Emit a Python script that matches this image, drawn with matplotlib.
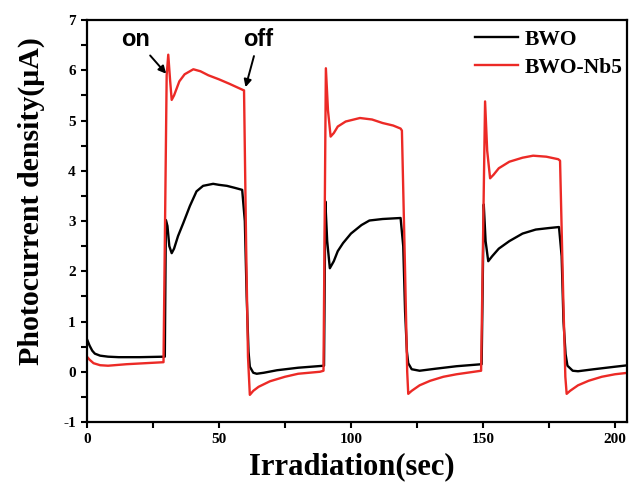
#!/usr/bin/env python3
"""Transient photocurrent response of BWO and BWO-Nb5 under chopped light."""

import matplotlib
matplotlib.use("Agg")
import matplotlib.pyplot as plt
from matplotlib.ticker import MultipleLocator

# BWO (black)
t_bwo = [0, 1, 2, 3, 5, 8, 12, 20, 29.5,
         29.9, 30.5, 31.2, 32.1, 33, 34.5, 36.5, 39, 41.5, 44, 47.8, 50, 53, 56, 58.8,
         59.8, 60.5, 61.2, 61.7, 63, 64.3, 67, 72, 80, 89.8,
         90.3, 91, 92, 93.5, 95, 97, 100, 104, 107, 112, 118.8,
         119.8, 120.5, 121.2, 121.7, 123, 126, 132, 140, 149.5,
         150.3, 151, 152, 153.5, 156, 160, 165, 170, 175, 178.8,
         179.8, 180.5, 181.3, 182, 184, 186, 192, 200, 205]
j_bwo = [0.65, 0.52, 0.42, 0.36, 0.32, 0.30, 0.29, 0.29, 0.30,
         3.02, 2.90, 2.50, 2.36, 2.45, 2.70, 2.96, 3.30, 3.59, 3.70, 3.74, 3.72, 3.70, 3.66, 3.62,
         3.00, 1.50, 0.40, 0.10, -0.02, -0.04, -0.02, 0.03, 0.08, 0.12,
         3.39, 2.60, 2.06, 2.20, 2.40, 2.56, 2.75, 2.92, 3.01, 3.04, 3.06,
         2.50, 1.20, 0.40, 0.17, 0.05, 0.02, 0.06, 0.11, 0.15,
         3.33, 2.60, 2.20, 2.30, 2.45, 2.60, 2.75, 2.83, 2.86, 2.88,
         2.30, 1.00, 0.35, 0.12, 0.02, 0.01, 0.05, 0.10, 0.13]

# BWO-Nb5 (red)
t_nb5 = [0, 1, 2.5, 5, 8, 15, 22, 29.0,
         30.2, 30.8, 31.5, 32.1, 33, 35, 37, 40.3, 43, 46, 50, 54, 59,
         59.5, 60.3, 61, 61.7, 63, 65, 69.3, 75, 80, 88.3, 89.6,
         90.5, 91.3, 92.3, 93.5, 95, 98, 103.4, 108, 112, 116, 118.8,
         119.3, 120.5, 121.3, 121.7, 123, 126, 130, 135, 140, 149.3,
         150.8, 151.6, 152.7, 154, 156, 160, 165, 169, 174, 178.5,
         179.2, 180.4, 181.2, 181.7, 183, 186, 190, 195, 200, 205]
j_nb5 = [0.30, 0.24, 0.17, 0.13, 0.12, 0.15, 0.17, 0.19,
         5.90, 6.31, 5.80, 5.41, 5.50, 5.78, 5.92, 6.02, 5.98, 5.90, 5.82, 5.73, 5.61,
         5.60, 2.50, 0.30, -0.46, -0.38, -0.30, -0.19, -0.10, -0.04, 0.00, 0.02,
         6.04, 5.20, 4.68, 4.75, 4.88, 4.98, 5.05, 5.02, 4.95, 4.90, 4.84,
         4.80, 2.00, 0.00, -0.44, -0.38, -0.27, -0.18, -0.10, -0.05, 0.02,
         5.38, 4.40, 3.85, 3.92, 4.05, 4.18, 4.26, 4.30, 4.28, 4.23,
         4.20, 1.50, -0.10, -0.44, -0.38, -0.27, -0.18, -0.10, -0.05, -0.02]

SERIF = "Liberation Serif"
SANS = "Liberation Sans"
plt.rcParams["axes.unicode_minus"] = False

fig = plt.figure(figsize=(6.3, 4.86), dpi=100)
ax = fig.add_axes([0.138, 0.1317, 0.857, 0.8271])

ax.plot(t_bwo, j_bwo, color="black", linewidth=1.7, label="BWO")
ax.plot(t_nb5, j_nb5, color="#ec2a26", linewidth=1.7, label="BWO-Nb5")

ax.set_xlim(0, 204.5)
ax.set_ylim(-1, 7)
ax.xaxis.set_major_locator(MultipleLocator(50))
ax.xaxis.set_minor_locator(MultipleLocator(25))
ax.yaxis.set_major_locator(MultipleLocator(1))
ax.yaxis.set_minor_locator(MultipleLocator(0.5))
ax.tick_params(which="both", direction="out", length=4, width=1.5,
               top=False, right=False)
ax.tick_params(which="major", labelsize=11, pad=4)
for lab in ax.get_xticklabels() + ax.get_yticklabels():
    lab.set_fontfamily(SERIF)
    lab.set_fontweight("bold")
for sp in ax.spines.values():
    sp.set_linewidth(1.6)

ax.set_xlabel("Irradiation(sec)", fontsize=22, fontweight="bold", family=SERIF)
ax.xaxis.set_label_coords(0.49, -0.075)
ax.set_ylabel("Photocurrent density(μA)", fontsize=21.5, fontweight="bold",
              family=SERIF)
ax.yaxis.set_label_coords(-0.078, 0.55)

arrow = dict(arrowstyle="-|>", color="black", lw=1.4, mutation_scale=11)
ax.annotate("on", xy=(30.7, 5.89), xytext=(18.5, 6.62), ha="center", va="center",
            fontsize=17, fontweight="bold", family=SANS, arrowprops=arrow)
ax.annotate("off", xy=(59.8, 5.61), xytext=(65.0, 6.62), ha="center", va="center",
            fontsize=17, fontweight="bold", family=SANS, arrowprops=arrow)

ax.legend(loc="upper right", bbox_to_anchor=(1.0, 0.986), frameon=False,
          handlelength=2.0, handletextpad=0.3, labelspacing=0.35,
          borderaxespad=0.05, borderpad=0.15,
          prop={"family": SERIF, "weight": "bold", "size": 15.5})

fig.savefig("out.png", dpi=100)
